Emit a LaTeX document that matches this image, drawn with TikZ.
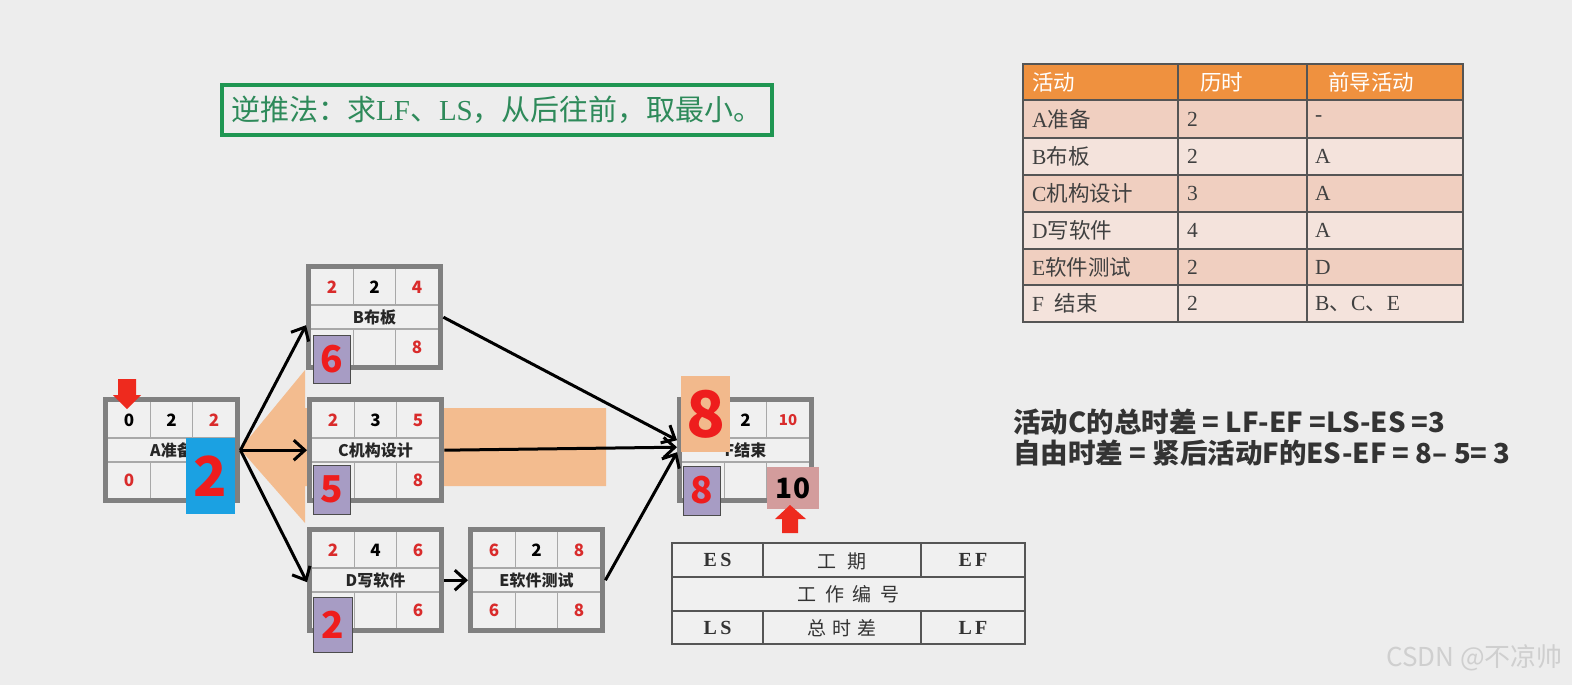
\documentclass[tikz,border=0pt]{standalone}
\usepackage{fontspec}
\setmainfont{Noto Sans CJK SC}
\newfontfamily\lser{Liberation Serif}
\usetikzlibrary{arrows.meta}
\definecolor{bg}{HTML}{EDEDED}
\definecolor{framegray}{HTML}{808080}
\definecolor{cellfill}{HTML}{F0F0F0}
\definecolor{cellline}{HTML}{A8A8A8}
\definecolor{numred}{HTML}{D92B2B}
\definecolor{bigred}{HTML}{EE1D1D}
\definecolor{boxblue}{HTML}{1BA1E2}
\definecolor{boxpurple}{HTML}{A79CC4}
\definecolor{boxorange}{HTML}{F2B98C}
\definecolor{boxpink}{HTML}{D39C9C}
\definecolor{bigarrow}{HTML}{F3BC8F}
\definecolor{arrowred}{HTML}{EE2A1E}
\definecolor{hdrorange}{HTML}{EF913F}
\definecolor{rowdark}{HTML}{F0CFC0}
\definecolor{rowlight}{HTML}{F4E3DC}
\definecolor{tblline}{HTML}{555555}
\definecolor{greenbox}{HTML}{1F9652}
\definecolor{greentext}{HTML}{2E8A5A}
\definecolor{txtgray}{HTML}{333333}
\definecolor{wm}{HTML}{CFCFCF}
\tikzset{
  cellnum/.style={font=\bfseries\fontsize{17}{17}\selectfont, inner sep=0pt, text=numred},
  durnum/.style={font=\bfseries\fontsize{17}{17}\selectfont, inner sep=0pt, text=black},
  cellname/.style={font=\bfseries\fontsize{16}{16}\selectfont, inner sep=0pt, text=black!85},
  frameshape/.style={inner sep=0pt, minimum width=137pt, minimum height=106pt, anchor=north west},
  conn/.style={line width=3pt, -{Straight Barb[length=11pt,width=20pt,line width=3pt]}},
  ovbox/.style={inner sep=0pt, text=bigred, font=\bfseries\fontsize{37}{37}\selectfont},
  tbltxt/.style={inner sep=0pt, anchor=west, text=black!75, font=\fontsize{21.5}{21.5}\selectfont},
  hdrtxt/.style={inner sep=0pt, anchor=west, text=white, font=\fontsize{21.5}{21.5}\selectfont},
  lgtxt/.style={inner sep=0pt, text=txtgray, font=\fontsize{19}{19}\selectfont},
  lgbold/.style={inner sep=0pt, text=txtgray, font=\lser\bfseries\fontsize{20}{20}\selectfont},
  rtxt/.style={inner sep=0pt, anchor=west, text=txtgray, font=\bfseries\fontsize{27.5}{27.5}\selectfont},
}
% #1 name, #2 x, #3 y, #4 ES, #5 duration, #6 EF, #7 label, #8 LS, #9 LF
\newcommand\pertbox[9]{%
  \begin{scope}[shift={(#2,#3)}]
    \fill[framegray] (0,0) rectangle (137,106);
    \fill[cellfill] (5,5) rectangle (132,101);
    \draw[cellline, line width=1.2pt] (5,41) -- (132,41) (5,65) -- (132,65)
      (47.3,5) -- (47.3,41) (89.7,5) -- (89.7,41)
      (47.3,65) -- (47.3,101) (89.7,65) -- (89.7,101);
    \node[frameshape] (#1) at (0,0) {};
    \node[cellnum] (#1-es) at (26,23) {#4};
    \node[durnum] (#1-d) at (68.5,23) {#5};
    \node[cellnum] (#1-ef) at (111,23) {#6};
    \node[cellname] (#1-n) at (68.5,53) {#7};
    \node[cellnum] (#1-ls) at (26,83) {#8};
    \node[cellnum] (#1-lf) at (111,83) {#9};
  \end{scope}}
\begin{document}
\begin{tikzpicture}[x=1pt,y=-1pt]
\useasboundingbox (0,0) rectangle (1572,685);
\fill[bg] (0,0) rectangle (1572,685);

% title box
\node[draw=greenbox, line width=4pt, minimum width=550pt, minimum height=49pt, inner sep=0pt,
  text=greentext, font=\fontsize{29}{29}\selectfont] (title) at (497,110)
  {逆推法：求{\lser LF}、{\lser LS}，从后往前，取最小。};

% big orange arrow (behind)
\fill[bigarrow] (240,449) -- (305,370) -- (305,408) -- (606,408) -- (606,486)
  -- (305,486) -- (305,523) -- cycle;

% activity boxes
\pertbox{A}{103}{397}{\textcolor{black}{0}}{2}{2}{A准备}{0}{}
\pertbox{B}{306}{264}{2}{2}{4}{B布板}{}{8}
\pertbox{C}{307}{397}{2}{3}{5}{C机构设计}{}{8}
\pertbox{D}{307}{527}{2}{4}{6}{D写软件}{}{6}
\pertbox{E}{468}{527}{6}{2}{8}{E软件测试}{6}{8}
\pertbox{F}{677}{397}{}{2}{\fontsize{15}{15}\selectfont 10}{F结束}{}{}

% overlays
\node[ovbox, fill=boxblue, minimum width=49pt, minimum height=76pt,
  font=\bfseries\fontsize{55}{55}\selectfont] (Aov) at (210.5,476) {2};
\node[ovbox, fill=boxpurple, draw=black!70, line width=0.8pt, minimum width=37pt, minimum height=48pt] (Bov) at (331.5,359) {6};
\node[ovbox, fill=boxpurple, draw=black!70, line width=0.8pt, minimum width=37pt, minimum height=49pt] (Cov) at (331.5,489.5) {5};
\node[ovbox, fill=boxpurple, draw=black!70, line width=0.8pt, minimum width=39pt, minimum height=55pt] (Dov) at (332.5,624.5) {2};
\node[ovbox, fill=boxorange, minimum width=49pt, minimum height=76pt,
  font=\bfseries\fontsize{64}{64}\selectfont] (Fov1) at (705.5,414) {8};
\node[ovbox, fill=boxpurple, draw=black!70, line width=0.8pt, minimum width=37pt, minimum height=49pt] (Fov2) at (701.5,490.5) {8};
\node[ovbox, fill=boxpink, text=black, minimum width=52pt, minimum height=42pt,
  font=\bfseries\fontsize{28}{28}\selectfont] (Fov3) at (793,488) {10};

% red markers
\fill[arrowred] (118,379) -- (136,379) -- (136,395) -- (141,395) -- (127,409)
  -- (113,395) -- (118,395) -- cycle;
\fill[arrowred] (782,533) -- (798,533) -- (798,519) -- (806,519) -- (790,505)
  -- (775,519) -- (782,519) -- cycle;

% connectors
\draw[conn] (A.east) -- ([yshift=-8pt]B.west);
\draw[conn] (A.east) -- (C.west);
\draw[conn] (A.east) -- ([yshift=-2pt]D.west);
\draw[conn] (B.east) -- ([yshift=10pt]F.west);
\draw[conn] (C.east) -- ([yshift=3pt]F.west);
\draw[conn] (E.east) -- ([yshift=-2pt]F.west);
\draw[conn] (D.east) -- (E.west);

% legend table
\fill[cellfill] (672,543) rectangle (1025,644);
\draw[tblline, line width=1.3pt] (672,543) rectangle (1025,644)
  (672,577) -- (1025,577) (672,611) -- (1025,611)
  (763,543) -- (763,577) (921,543) -- (921,577)
  (763,611) -- (763,644) (921,611) -- (921,644);
\node[lgbold] (lg-es) at (717.5,560) {E\,S};
\node[lgtxt] (lg-d) at (842,561) {工\hspace{0.6em}期};
\node[lgbold] (lg-ef) at (973,560) {E\,F};
\node[lgtxt] (lg-n) at (848.5,594) {工\hspace{0.45em}作\hspace{0.45em}编\hspace{0.45em}号};
\node[lgbold] (lg-ls) at (717.5,628) {L\,S};
\node[lgtxt] (lg-t) at (842,628) {总\hspace{0.3em}时\hspace{0.3em}差};
\node[lgbold] (lg-lf) at (973,628) {L\,F};

% activity table
\fill[hdrorange] (1023,64) rectangle (1463,100);
\fill[rowdark] (1023,100) rectangle (1463,138);
\fill[rowlight] (1023,138) rectangle (1463,175);
\fill[rowdark] (1023,175) rectangle (1463,212);
\fill[rowlight] (1023,212) rectangle (1463,249);
\fill[rowdark] (1023,249) rectangle (1463,285);
\fill[rowlight] (1023,285) rectangle (1463,322);
\draw[tblline, line width=1.4pt] (1023,64) rectangle (1463,322)
  (1023,100) -- (1463,100) (1023,138) -- (1463,138) (1023,175) -- (1463,175)
  (1023,212) -- (1463,212) (1023,249) -- (1463,249) (1023,285) -- (1463,285)
  (1178,64) -- (1178,322) (1307,64) -- (1307,322);
\node[hdrtxt] (h1) at (1032,82) {活动};
\node[hdrtxt] (h2) at (1200,82) {历时};
\node[hdrtxt] (h3) at (1328,82) {前导活动};
\node[tbltxt] (r1a) at (1032,119) {{\lser A}准备};
\node[tbltxt] (r1b) at (1187,119) {\lser 2};
\node[tbltxt] (r1c) at (1315,119) {\lser -};
\node[tbltxt] (r2a) at (1032,156.5) {{\lser B}布板};
\node[tbltxt] (r2b) at (1187,156.5) {\lser 2};
\node[tbltxt] (r2c) at (1315,156.5) {\lser A};
\node[tbltxt] (r3a) at (1032,193.5) {{\lser C}机构设计};
\node[tbltxt] (r3b) at (1187,193.5) {\lser 3};
\node[tbltxt] (r3c) at (1315,193.5) {\lser A};
\node[tbltxt] (r4a) at (1032,230.5) {{\lser D}写软件};
\node[tbltxt] (r4b) at (1187,230.5) {\lser 4};
\node[tbltxt] (r4c) at (1315,230.5) {\lser A};
\node[tbltxt] (r5a) at (1032,267) {{\lser E}软件测试};
\node[tbltxt] (r5b) at (1187,267) {\lser 2};
\node[tbltxt] (r5c) at (1315,267) {\lser D};
\node[tbltxt] (r6a) at (1032,303.5) {{\lser F}\hspace{0.5em}结束};
\node[tbltxt] (r6b) at (1187,303.5) {\lser 2};
\node[tbltxt] (r6c) at (1315,303.5) {{\lser B}、{\lser C}、{\lser E}};

% right-hand formulas
\node[rtxt] (f1) at (1013,422) {活动C的总时差 = LF-EF =LS-ES =3};
\node[rtxt] (f2) at (1013,453) {自由时差 = 紧后活动F的ES-EF = 8– 5= 3};

% watermark
\node[inner sep=0pt, anchor=east, text=wm, font=\fontsize{26}{26}\selectfont] (wmk) at (1563,658) {CSDN @不凉帅};
\end{tikzpicture}
\end{document}
